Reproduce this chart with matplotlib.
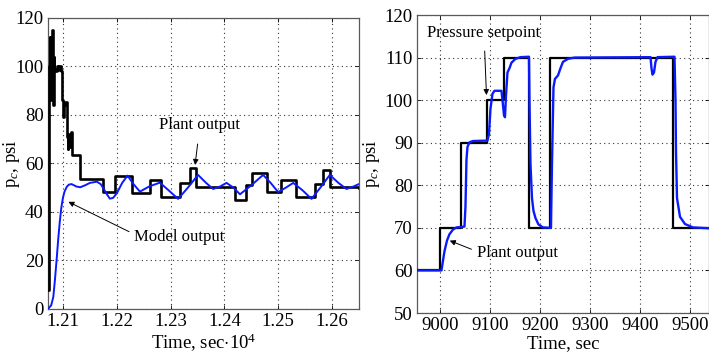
import matplotlib
matplotlib.use("Agg")
import matplotlib.pyplot as plt
import numpy as np

plt.rcParams['font.family'] = ['Liberation Serif', 'DejaVu Serif']
plt.rcParams['mathtext.fontset'] = 'custom'
plt.rcParams['mathtext.rm'] = 'Liberation Serif'
plt.rcParams['mathtext.it'] = 'Liberation Serif:italic'

# ---------------- Left panel data (time in seconds) ----------------
left_plant_t = [12073, 12073.5, 12074, 12075, 12076, 12077, 12078, 12079, 12080, 12081,
                12082, 12083, 12084, 12086, 12088, 12090, 12093, 12096, 12098, 12100,
                12101, 12103, 12107, 12109, 12110, 12112, 12114, 12116, 12132, 12175,
                12197, 12228, 12262, 12283, 12318, 12336, 12348, 12420, 12441, 12451,
                12479, 12506, 12534, 12568, 12584, 12596, 12650]
left_plant_v = [8, 60, 100, 112, 86, 110, 92, 114, 115, 103,
                84, 104, 99, 98, 100, 98.5, 100, 98, 86, 79,
                84, 85.5, 71, 66, 72, 67, 73, 63.5, 53.5, 48.4,
                55, 48, 53, 46.3, 51.8, 58, 50.4, 45, 51, 56,
                48.2, 53, 46.3, 51.5, 57.3, 50.2, 49.8]

left_model_t = [12072, 12078, 12082, 12085, 12088, 12091, 12094, 12097, 12100, 12103,
                12107, 12111, 12116, 12125, 12132, 12141, 12150, 12163, 12170, 12175,
                12181, 12187, 12193, 12200, 12210, 12220, 12231, 12243, 12260, 12280,
                12296, 12314, 12332, 12351, 12366, 12379, 12392, 12404, 12417, 12429,
                12450, 12472, 12486, 12500, 12514, 12528, 12545, 12562, 12580, 12596,
                12612, 12627, 12640, 12650]
left_model_v = [0, 1.5, 5, 12, 20, 28.5, 36, 42, 46, 48.5,
                50.4, 51.3, 51.5, 50.5, 50.2, 51, 52, 52.5, 51.5, 49.8,
                47.5, 45.5, 45.8, 47.7, 52, 55, 51.5, 48.4, 50.5, 52.1,
                49, 45.4, 50, 55.3, 52, 49.5, 50.5, 52, 50, 47.3,
                51, 55.3, 52, 48.2, 50, 52, 49, 45.4, 50.5, 55.3,
                52, 49.5, 50.5, 51.5]

left_xticks = [1.21, 1.22, 1.23, 1.24, 1.25, 1.26]
left_xticklabels = ['1.21', '1.22', '1.23', '1.24', '1.25', '1.26']
left_yticks = [0, 20, 40, 60, 80, 100, 120]

# ---------------- Right panel data ----------------
setpoint_t = [8953, 9000, 9042, 9093, 9127, 9177, 9220, 9465, 9537]
setpoint_v = [60, 70, 90, 100, 110, 70, 110, 70, 70]

right_plant_t = [8953, 9002, 9004, 9008, 9013, 9018, 9025, 9032, 9048, 9050,
                 9052, 9054, 9058, 9065, 9094, 9097, 9100, 9104, 9108, 9122,
                 9124, 9127, 9129, 9131, 9134, 9138, 9142, 9150, 9160, 9177,
                 9178, 9180, 9183, 9186, 9190, 9196, 9205, 9221, 9223, 9226,
                 9229, 9235, 9240, 9245, 9255, 9268, 9420, 9422, 9424, 9427,
                 9430, 9434, 9468, 9470, 9471, 9473, 9479, 9489, 9505, 9537]
right_plant_v = [60, 60, 61.5, 64.5, 67, 68.5, 69.6, 70.1, 70.3, 75,
                 86, 89, 90.1, 90.4, 90.5, 92, 98, 101.5, 102.2, 102.2,
                 100, 96.5, 96, 101, 106.5, 107.5, 108.8, 109.7, 110.1, 110.2,
                 100, 85, 77, 74, 72.3, 70.8, 70.1, 70, 85, 103,
                 105, 105.8, 107.5, 109, 109.7, 110, 110.1, 107.5, 106, 106.5,
                 109, 110.1, 110.2, 100, 88, 77, 72.6, 70.9, 70.1, 69.9]

right_xticks = [9000, 9100, 9200, 9300, 9400, 9500]
right_yticks = [50, 60, 70, 80, 90, 100, 110, 120]

# ---------------- Figure ----------------
fig = plt.figure(figsize=(7.09, 3.55), dpi=100)
axL = fig.add_axes([0.0677, 0.1296, 0.4386, 0.8197])
axR = fig.add_axes([0.5881, 0.1183, 0.4119, 0.8394])

FS = 13.5
AFS = 12
grid_kw = dict(color='0.2', linestyle=(0, (1, 3)), linewidth=0.8)

# Left
lt = np.array(left_plant_t) / 1e4
mt = np.array(left_model_t) / 1e4
axL.plot(lt, left_plant_v, color='black', lw=1.9, drawstyle='steps-post', zorder=3)
axL.plot(mt, left_model_v, color='#0a1aff', lw=1.4, zorder=4)
axL.set_xlim(1.20721, 1.26502)
axL.set_ylim(0, 120)
axL.set_xticks(left_xticks)
axL.set_xticklabels(left_xticklabels)
axL.set_yticks(left_yticks)
axL.grid(True, **grid_kw)
axL.set_xlabel(r'Time, sec$\cdot$10$^4$', fontsize=FS, labelpad=1)
axL.set_ylabel(r'p$_c$, psi', fontsize=FS)
axL.yaxis.set_label_coords(-0.084, 0.5)
axL.annotate('Plant output', xy=(1.23455, 59.4), xytext=(1.23546, 75.9),
             ha='center', va='center', fontsize=AFS,
             arrowprops=dict(arrowstyle='-|>', color='black', lw=0.7,
                             mutation_scale=8, shrinkA=6, shrinkB=0))
axL.annotate('Model output', xy=(1.2110, 44.2), xytext=(1.23165, 29.5),
             ha='center', va='center', fontsize=AFS,
             arrowprops=dict(arrowstyle='-|>', color='black', lw=0.7,
                             mutation_scale=8, shrinkA=2, shrinkB=0,
                             relpos=(0, 0.7)))

# Right
axR.plot(setpoint_t, setpoint_v, color='black', lw=1.6, drawstyle='steps-post', zorder=3)
axR.plot(right_plant_t, right_plant_v, color='#0a1aff', lw=1.7, zorder=4)
axR.set_xlim(8953, 9537)
axR.set_ylim(50, 120)
axR.set_xticks(right_xticks)
axR.set_yticks(right_yticks)
axR.grid(True, **grid_kw)
axR.set_xlabel('Time, sec', fontsize=FS, labelpad=1)
axR.set_ylabel(r'p$_c$, psi', fontsize=FS)
axR.yaxis.set_label_coords(-0.12, 0.5)
axR.annotate('Pressure setpoint', xy=(9092, 101.2), xytext=(9087, 115.7),
             ha='center', va='center', fontsize=AFS,
             arrowprops=dict(arrowstyle='-|>', color='black', lw=0.7,
                             mutation_scale=8, shrinkA=5, shrinkB=0))
axR.annotate('Plant output', xy=(9018.6, 67), xytext=(9153.6, 64.1),
             ha='center', va='center', fontsize=AFS,
             arrowprops=dict(arrowstyle='-|>', color='black', lw=0.7,
                             mutation_scale=8, shrinkA=2, shrinkB=0,
                             relpos=(0, 0.6)))

for ax in (axL, axR):
    ax.tick_params(direction='in', labelsize=FS, length=3, width=0.6, pad=3,
                   top=True, right=True)
    for s in ax.spines.values():
        s.set_color('0.35')
        s.set_linewidth(0.9)

fig.savefig('out.png', dpi=100)
